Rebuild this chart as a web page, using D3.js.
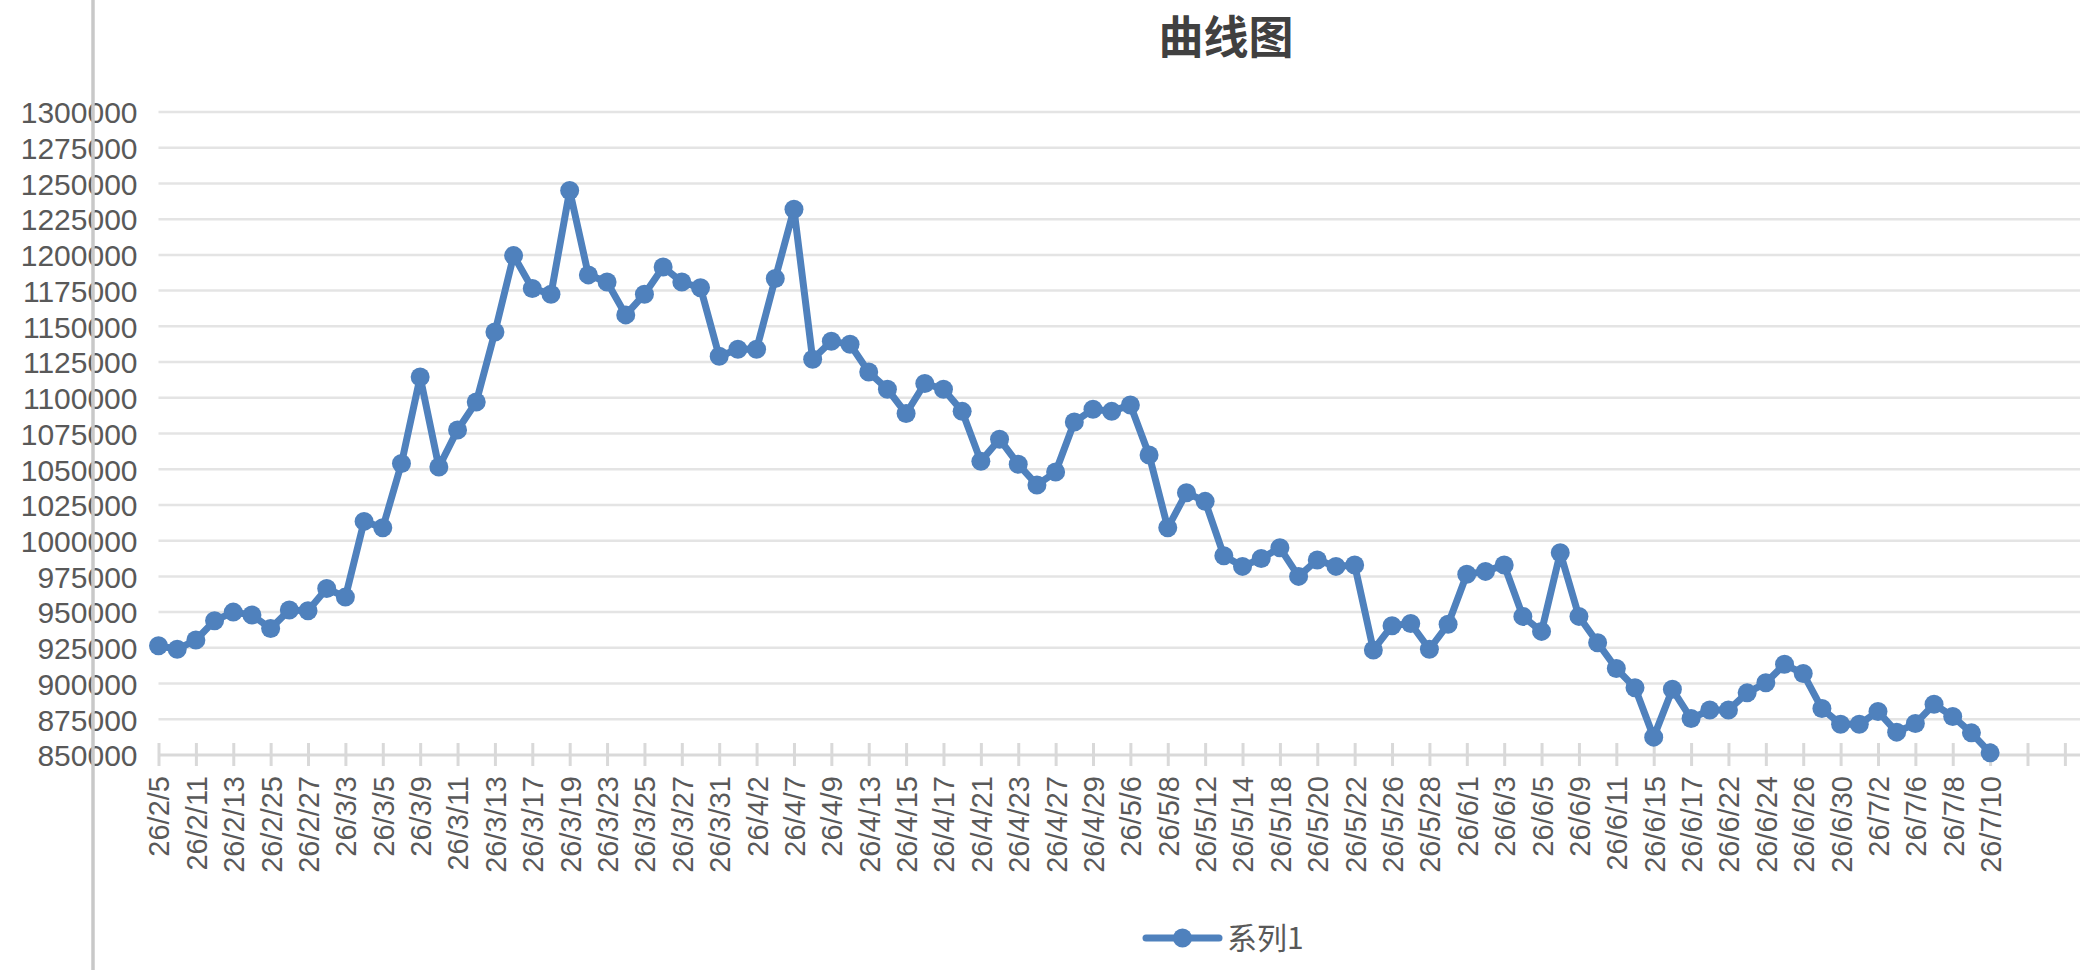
<!DOCTYPE html>
<html>
<head>
<meta charset="utf-8">
<script src="https://cdn.jsdelivr.net/npm/d3@7"></script>
<style>
    body { margin: 0; background: #fff; }
    text { font-family: "Liberation Sans", Arial, Helvetica, sans-serif; }
</style>
</head>
<body>
<div id="chart"></div>
<script>
const title = "曲线图";
const seriesName = "系列1";

// labels shown on the x axis (every second category)
const tickLabels = [
    "26/2/5", "26/2/11", "26/2/13", "26/2/25", "26/2/27", "26/3/3", "26/3/5", "26/3/9", "26/3/11", "26/3/13",
    "26/3/17", "26/3/19", "26/3/23", "26/3/25", "26/3/27", "26/3/31", "26/4/2", "26/4/7", "26/4/9", "26/4/13",
    "26/4/15", "26/4/17", "26/4/21", "26/4/23", "26/4/27", "26/4/29", "26/5/6", "26/5/8", "26/5/12", "26/5/14",
    "26/5/18", "26/5/20", "26/5/22", "26/5/26", "26/5/28", "26/6/1", "26/6/3", "26/6/5", "26/6/9", "26/6/11",
    "26/6/15", "26/6/17", "26/6/22", "26/6/24", "26/6/26", "26/6/30", "26/7/2", "26/7/6", "26/7/8", "26/7/10"
];

const values = [
    926500, 924000, 930500, 944000, 950000, 948000, 938500, 951500, 951000, 966500,
    960500, 1013500, 1009000, 1054000, 1114500, 1051500, 1077500, 1097000, 1146000, 1199500,
    1176500, 1172500, 1245000, 1186000, 1181000, 1158000, 1172500, 1191500, 1181000, 1177000,
    1129000, 1134000, 1134000, 1183500, 1232000, 1127000, 1139500, 1137500, 1118000, 1106000,
    1089000, 1110000, 1106000, 1090500, 1055500, 1071000, 1053500, 1039000, 1048000, 1083000,
    1092000, 1090500, 1095000, 1060000, 1009000, 1033500, 1027500, 989500, 982000, 987500,
    995000, 975000, 986500, 982000, 983000, 923500, 940500, 942000, 924000, 941500,
    976500, 978500, 983000, 947000, 936500, 991500, 947000, 928500, 910500, 897000,
    862500, 896000, 875500, 881500, 881500, 893500, 900500, 913500, 907000, 882500,
    871500, 871500, 880500, 866000, 872000, 885500, 877000, 865500, 851500
];

const yTicks = d3.range(850000, 1300001, 25000);
const categoryCount = 104; // axis runs a few empty categories past the data

const color = "#4F81BD";
const svg = d3.select("#chart").append("svg")
    .attr("width", 2080)
    .attr("height", 970);

const xScale = d3.scaleLinear()
    .domain([0, categoryCount - 1])
    .range([158.5, 158.5 + 18.69 * (categoryCount - 1)]);

const yScale = d3.scaleLinear()
    .domain([850000, 1300000])
    .range([755, 112]);

// horizontal gridlines
svg.append("g")
    .selectAll("line")
    .data(yTicks.slice(1))
    .enter()
    .append("line")
    .attr("x1", xScale(0))
    .attr("x2", 2080)
    .attr("y1", d => yScale(d))
    .attr("y2", d => yScale(d))
    .attr("stroke", "#e4e4e4")
    .attr("stroke-width", 2.5);

// y axis labels
const yAxis = svg.append("g")
    .attr("transform", `translate(${xScale(0) - 21}, 0)`)
    .call(d3.axisLeft(yScale).tickValues(yTicks).tickSize(0).tickPadding(0).tickFormat(d3.format("d")));
yAxis.select(".domain").remove();
yAxis.selectAll("text")
    .attr("fill", "#595959")
    .style("font-size", "30px")
    .attr("dy", "0.36em");

// x axis: line, cross tick marks, rotated labels
const xTickValues = d3.range(0, categoryCount, 2);
const xAxis = svg.append("g")
    .attr("transform", `translate(0, ${yScale(850000)})`)
    .call(d3.axisBottom(xScale)
        .tickValues(xTickValues)
        .tickSizeInner(11)
        .tickSizeOuter(0)
        .tickFormat(d => tickLabels[d / 2] || ""));
xAxis.select(".domain")
    .attr("stroke", "#d9d9d9")
    .attr("stroke-width", 3)
    .attr("d", `M${xScale(0)},0H2080`);
xAxis.selectAll(".tick line")
    .attr("stroke", "#d9d9d9")
    .attr("stroke-width", 3)
    .attr("y1", -12);
xAxis.selectAll(".tick text")
    .attr("fill", "#595959")
    .style("font-size", "29px")
    .attr("text-anchor", "end")
    .attr("transform", "translate(0, 21) rotate(-90)")
    .attr("x", 0)
    .attr("y", 0)
    .attr("dy", "0.36em");

// the line and its markers
const line = d3.line()
    .x((d, i) => xScale(i))
    .y(d => yScale(d));

svg.append("path")
    .datum(values)
    .attr("fill", "none")
    .attr("stroke", color)
    .attr("stroke-width", 7)
    .attr("stroke-linejoin", "round")
    .attr("d", line);

svg.append("g")
    .selectAll("circle")
    .data(values)
    .enter()
    .append("circle")
    .attr("cx", (d, i) => xScale(i))
    .attr("cy", d => yScale(d))
    .attr("r", 9.5)
    .attr("fill", color);

// left vertical separator line
svg.append("line")
    .attr("x1", 93)
    .attr("x2", 93)
    .attr("y1", 0)
    .attr("y2", 970)
    .attr("stroke", "#c8c8c8")
    .attr("stroke-width", 3.5);

// title
svg.append("text")
    .attr("x", 1226)
    .attr("y", 54)
    .attr("text-anchor", "middle")
    .attr("fill", "#404040")
    .style("font-family", "'Noto Sans CJK SC', sans-serif")
    .style("font-size", "45px")
    .style("font-weight", "bold")
    .text(title);

// legend
const legend = svg.append("g").attr("transform", "translate(1146, 938)");
legend.append("line")
    .attr("x1", 0)
    .attr("x2", 73)
    .attr("stroke", color)
    .attr("stroke-width", 7)
    .attr("stroke-linecap", "round");
legend.append("circle")
    .attr("cx", 36.5)
    .attr("r", 9.5)
    .attr("fill", color);
legend.append("text")
    .attr("x", 81)
    .attr("dy", "0.36em")
    .attr("fill", "#595959")
    .style("font-family", "'Noto Sans CJK SC', sans-serif")
    .style("font-size", "30px")
    .text(seriesName);
</script>
</body>
</html>
